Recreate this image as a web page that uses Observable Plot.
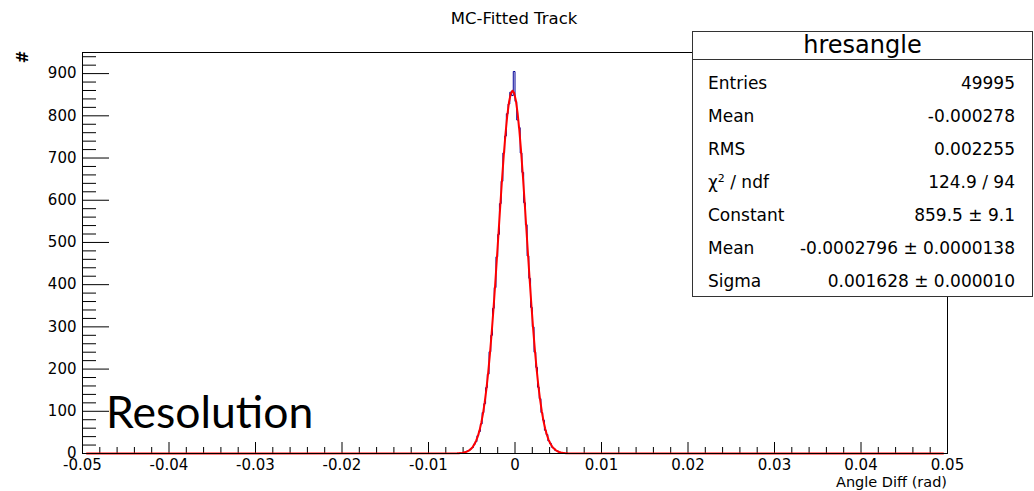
<!DOCTYPE html>
<html><head><meta charset="utf-8">
<script src="https://cdn.jsdelivr.net/npm/d3@7"></script>
<script src="https://cdn.jsdelivr.net/npm/@observablehq/plot@0.6"></script>
<style>
body{margin:0;background:#fff;}
#wrap{position:relative;width:1034px;height:491px;font-family:"DejaVu Sans",sans-serif;color:#000;}
#wrap > svg{position:absolute;left:0;top:0;}
#stats{position:absolute;left:692px;top:31px;width:341px;height:266px;box-sizing:border-box;border:1px solid #333;background:#fff;}
#stats .hd{height:27px;line-height:27px;text-align:center;font-size:24px;border-bottom:1px solid #333;}
#stats .bd{padding-top:7px;}
#stats .row{display:flex;justify-content:space-between;height:33px;line-height:33px;font-size:17px;padding:0 17px 0 15px;}
#stats sup{font-size:11px;line-height:0;vertical-align:6px;}
</style></head>
<body>
<div id="wrap"></div>
<script>
// ---- data ----
const histTitle = "MC-Fitted Track";
const histName = "hresangle";
const xLabel = "Angle Diff (rad)";
const yLabel = "#";
const note = "Resolution";
const xDomain = [-0.05, 0.05];
const yDomain = [0, 950];
const xTickLabels = [-0.05, -0.04, -0.03, -0.02, -0.01, 0, 0.01, 0.02, 0.03, 0.04, 0.05];
const yTickLabels = [0, 100, 200, 300, 400, 500, 600, 700, 800, 900];
// histogram: bins of width binWidth, first bin starts at binLow
const binLow = -0.0068;
const binWidth = 0.0002;
const counts = [
  0, 0, 1, 1, 2, 4, 6, 7, 11, 14,
  22, 28, 42, 52, 70, 97, 118, 156, 188, 241,
  280, 344, 393, 466, 519, 592, 645, 712, 752, 805,
  828, 856, 848, 905, 834, 790, 772, 712, 666, 594,
  542, 468, 415, 346, 300, 240, 204, 157, 130, 97,
  79, 55, 45, 30, 24, 15, 12, 7, 6, 3,
  2, 1, 1, 0, 0
];
// red fit curve, sampled at the bin centres, drawn over the whole axis
const fitEnds = [-0.0495, 0.0495];
const fitValues = [
  0.4, 0.6, 0.9, 1.4, 2.2, 3.4, 5.0, 7.4, 10.7, 15.3,
  21.5, 29.9, 40.8, 54.8, 72.5, 94.6, 121.6, 153.8, 191.8, 235.4,
  284.8, 339.2, 398.0, 460.1, 524.0, 587.6, 649.0, 706.3, 757.0, 799.3,
  831.4, 851.7, 859.4, 854.3, 836.4, 806.6, 766.3, 717.1, 661.0, 600.1,
  536.7, 472.7, 410.2, 350.7, 295.2, 244.9, 200.0, 160.9, 127.6, 99.6,
  76.6, 58.0, 43.3, 31.8, 23.0, 16.4, 11.6, 8.0, 5.4, 3.7,
  2.4, 1.6, 1.0, 0.6, 0.4
];
const statLabels = ["Entries", "Mean", "RMS", "χ<sup>2</sup> / ndf", "Constant", "Mean", "Sigma"];
const statValues = ["49995", "-0.000278", "0.002255", "124.9 / 94", "859.5 ± 9.1", "-0.0002796 ± 0.0000138", "0.001628 ± 0.000010"];

// ---- build ----
const W = 1034, H = 491;
const mL = 82, mR = 87, mT = 52, mB = 38;
const fW = W - mL - mR, fH = H - mT - mB;

const histPts = [{x: xDomain[0], y: 0}];
counts.forEach((c, i) => histPts.push({x: binLow + i * binWidth, y: c}));
histPts.push({x: binLow + counts.length * binWidth, y: 0});
histPts.push({x: xDomain[1], y: 0});

const fitPts = [{x: fitEnds[0], y: 0}];
fitValues.forEach((v, i) => fitPts.push({x: binLow + (i + 0.5) * binWidth, y: v}));
fitPts.push({x: fitEnds[1], y: 0});

const xMinor = d3.range(-50, 51, 2).filter(i => i % 10 !== 0).map(i => i / 1000);
const yMinor = d3.range(0, 951, 20).filter(v => v % 100 !== 0);

const chart = Plot.plot({
  width: W, height: H,
  marginLeft: mL, marginRight: mR, marginTop: mT, marginBottom: mB,
  x: {domain: xDomain},
  y: {domain: yDomain},
  style: {fontFamily: "DejaVu Sans", fontSize: "15px", background: "white", color: "black"},
  marks: [
    Plot.tickX(xMinor, {x: d => d, insetTop: fH - 6, stroke: "#000"}),
    Plot.tickX(xTickLabels, {x: d => d, insetTop: fH - 11, stroke: "#000"}),
    Plot.tickY(yMinor, {y: d => d, insetRight: fW - 14, stroke: "#000"}),
    Plot.tickY(yTickLabels, {y: d => d, insetRight: fW - 27, stroke: "#000"}),
    Plot.line(histPts, {x: "x", y: "y", curve: "step-after", stroke: "#000099", strokeWidth: 1}),
    Plot.line(fitPts, {x: "x", y: "y", stroke: "#ff0000", strokeWidth: 2}),
    Plot.frame({stroke: "#000"}),
    Plot.axisX(xTickLabels, {tickSize: 0, tickPadding: 6, label: null,
      tickFormat: d => String(+d.toFixed(2))}),
    Plot.axisY(yTickLabels, {tickSize: 0, tickPadding: 6, label: null,
      tickFormat: d => String(d)})
  ]
});
const wrap = document.getElementById("wrap");
wrap.appendChild(chart);

// annotations (title, axis titles, text note)
const ns = "http://www.w3.org/2000/svg";
const ov = document.createElementNS(ns, "svg");
ov.setAttribute("width", W); ov.setAttribute("height", H);
ov.style.position = "absolute"; ov.style.left = "0"; ov.style.top = "0";
function addText(txt, attrs) {
  const t = document.createElementNS(ns, "text");
  for (const k in attrs) t.setAttribute(k, attrs[k]);
  t.textContent = txt;
  ov.appendChild(t);
}
addText(histTitle, {x: 514, y: 24, "text-anchor": "middle", "font-family": "DejaVu Sans", "font-size": 16.5});
addText(xLabel, {x: 947, y: 487, "text-anchor": "end", "font-family": "DejaVu Sans", "font-size": 14.5});
addText(yLabel, {x: 0, y: 0, "text-anchor": "middle", "font-family": "DejaVu Sans", "font-size": 15, "font-weight": "bold",
  transform: "translate(27.5,57) rotate(-90)"});
addText(note, {x: 106, y: 428, "font-family": "Lato", "font-size": 44.5});
wrap.appendChild(ov);

// statistics box
const box = document.createElement("div");
box.id = "stats";
let html = `<div class="hd">${histName}</div><div class="bd">`;
statLabels.forEach((l, i) => { html += `<div class="row"><span>${l}</span><span>${statValues[i]}</span></div>`; });
html += "</div>";
box.innerHTML = html;
wrap.appendChild(box);
</script>
</body></html>
